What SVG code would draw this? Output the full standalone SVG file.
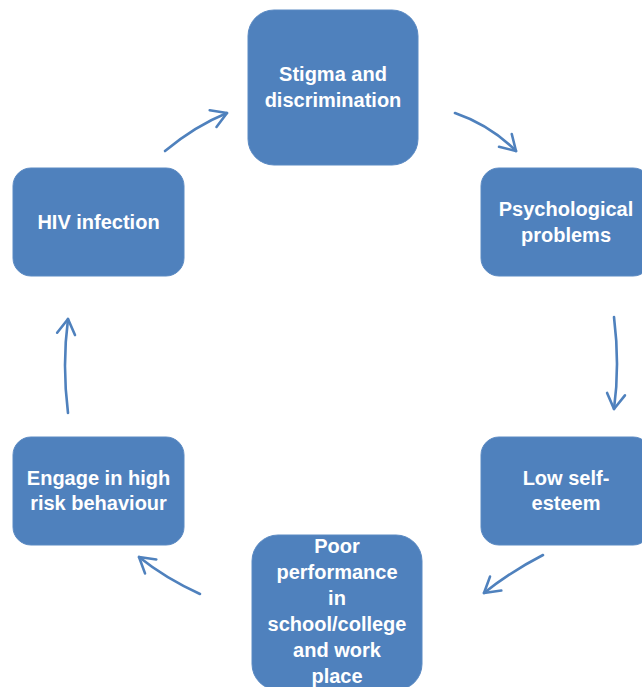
<svg xmlns="http://www.w3.org/2000/svg" width="642" height="687" viewBox="0 0 642 687">
<style>
.box{fill:#4F81BD;stroke:#5b8ac3;stroke-width:1}
.lbl{fill:#ffffff;font-family:"Liberation Sans",Arial,sans-serif;font-weight:bold;font-size:20px;text-anchor:middle}
.conn{fill:none;stroke:#4F81BD;stroke-width:2.6;stroke-linecap:round}
</style>
<defs>
<marker id="ah" markerUnits="userSpaceOnUse" markerWidth="40" markerHeight="40" viewBox="-20 -20 40 40" refX="0" refY="0" orient="auto">
<path d="M-15,-9 L0,0 L-15,9" fill="none" stroke="#4F81BD" stroke-width="2.6" stroke-linecap="round" stroke-linejoin="round"/>
</marker>
</defs>
<rect width="642" height="687" fill="#ffffff"/>
<g id="connectors">
<path class="conn" marker-end="url(#ah)" d="M165,151 Q195,126 227,113"/>
<path class="conn" marker-end="url(#ah)" d="M455,113 Q490,125 516,151"/>
<path class="conn" marker-end="url(#ah)" d="M614,317 Q620,365 614,409"/>
<path class="conn" marker-end="url(#ah)" d="M543,555 Q510,572 484,593"/>
<path class="conn" marker-end="url(#ah)" d="M200,594 Q165,578 139,557"/>
<path class="conn" marker-end="url(#ah)" d="M68,413 Q62,365 68,319"/>
</g>
<g id="stigma">
<rect class="box" x="248" y="10" width="170" height="155" rx="26"/>
<text class="lbl" x="333" y="81">Stigma and</text>
<text class="lbl" x="333" y="107">discrimination</text>
</g>
<g id="psychological">
<rect class="box" x="481" y="168" width="170" height="108" rx="18"/>
<text class="lbl" x="566" y="216">Psychological</text>
<text class="lbl" x="566" y="242">problems</text>
</g>
<g id="low-self-esteem">
<rect class="box" x="481" y="437" width="170" height="108" rx="18"/>
<text class="lbl" x="566" y="485">Low self-</text>
<text class="lbl" x="566" y="510">esteem</text>
</g>
<g id="poor-performance">
<rect class="box" x="252" y="535" width="170" height="155" rx="26"/>
<text class="lbl" x="337" y="553">Poor</text>
<text class="lbl" x="337" y="579">performance</text>
<text class="lbl" x="337" y="605">in</text>
<text class="lbl" x="337" y="631">school/college</text>
<text class="lbl" x="337" y="657">and work</text>
<text class="lbl" x="337" y="683">place</text>
</g>
<g id="high-risk">
<rect class="box" x="13" y="437" width="171" height="108" rx="18"/>
<text class="lbl" x="98.5" y="485">Engage in high</text>
<text class="lbl" x="98.5" y="510">risk behaviour</text>
</g>
<g id="hiv">
<rect class="box" x="13" y="168" width="171" height="108" rx="18"/>
<text class="lbl" x="98.5" y="229">HIV infection</text>
</g>
</svg>
